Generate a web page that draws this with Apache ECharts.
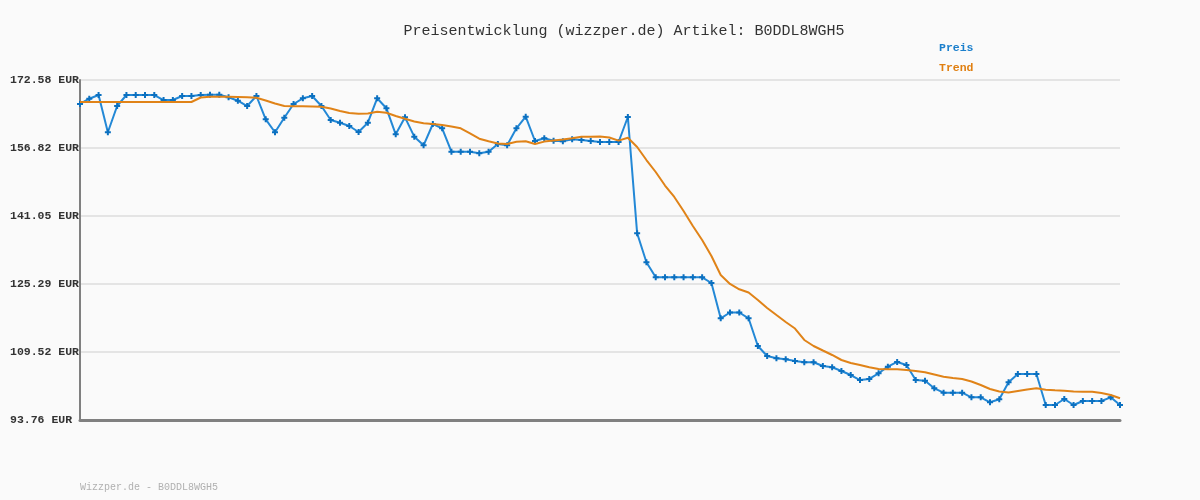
<!DOCTYPE html>
<html>
<head>
<meta charset="utf-8">
<script src="https://cdn.jsdelivr.net/npm/echarts@6/dist/echarts.min.js"></script>
<style>
html,body{margin:0;padding:0;background:#fafafa;}
#c{width:1200px;height:500px;}
</style>
</head>
<body>
<div id="c"></div>
<script>
const titleText = 'Preisentwicklung (wizzper.de) Artikel: B0DDL8WGH5';
const footerText = 'Wizzper.de - B0DDL8WGH5';
const yTicks = [93.76, 109.52, 125.29, 141.05, 156.82, 172.58];

const preis = [
167.02,168.24,169.10,160.46,166.55,169.10,169.10,169.10,169.10,167.94,
167.94,168.87,168.87,169.10,169.17,169.17,168.57,167.78,166.55,168.87,
163.47,160.46,163.84,167.02,168.34,168.87,166.55,163.31,162.68,161.92,
160.53,162.68,168.34,166.02,159.99,163.93,159.44,157.44,162.38,161.38,
155.96,155.96,155.96,155.59,155.96,157.74,157.44,161.38,164.07,158.44,
159.06,158.51,158.37,158.83,158.67,158.44,158.21,158.21,158.21,164.00,
137.04,130.32,126.84,126.84,126.84,126.84,126.84,126.84,125.52,117.34,
118.68,118.68,117.34,110.92,108.60,108.06,107.86,107.44,107.14,107.14,
106.28,105.98,105.12,104.19,103.03,103.27,104.59,106.12,107.21,106.51,
103.03,102.87,101.11,100.09,100.09,100.09,99.02,99.02,97.86,98.56,
102.50,104.42,104.42,104.42,97.24,97.24,98.63,97.24,98.17,98.17,
98.17,99.02,97.24
];

const trend = [
167.48,167.48,167.48,167.48,167.48,167.48,167.48,167.48,167.48,167.48,
167.48,167.48,167.48,168.52,168.71,168.71,168.71,168.64,168.57,168.48,
167.83,167.13,166.55,166.51,166.48,166.44,166.39,165.97,165.39,164.93,
164.75,164.82,165.23,165.00,164.23,163.59,162.96,162.54,162.38,162.15,
161.80,161.38,160.18,158.97,158.37,157.86,157.74,158.25,158.37,157.74,
158.30,158.53,158.76,159.06,159.43,159.43,159.47,159.25,158.53,159.20,
157.05,154.03,151.25,148.12,145.46,142.21,138.74,135.49,131.78,127.38,
125.29,124.06,123.32,121.58,119.73,118.10,116.48,114.97,112.31,110.92,
109.87,108.83,107.67,106.98,106.51,105.98,105.58,105.51,105.51,105.35,
105.12,104.82,104.31,103.80,103.50,103.27,102.69,101.88,100.95,100.37,
100.14,100.49,100.83,101.11,100.76,100.65,100.55,100.37,100.32,100.32,
100.02,99.56,98.79
];

const categories = preis.map((_, i) => String(i + 1));

const yMin = yTicks[0], yMax = yTicks[yTicks.length - 1];
const yInterval = (yMax - yMin) / (yTicks.length - 1);

const chart = echarts.init(document.getElementById('c'), null, {renderer: 'canvas'});
const mono = '"Liberation Mono", "DejaVu Sans Mono", monospace';

chart.setOption({
  backgroundColor: '#fafafa',
  animation: false,
  title: {
    text: titleText,
    left: 619, top: 19, textAlign: 'center',
    textStyle: {fontFamily: mono, fontSize: 15, fontWeight: 'normal', color: '#333'}
  },
  legend: {
    data: [
      {name: 'Preis', textStyle: {color: '#1a7fcc'}},
      {name: 'Trend', textStyle: {color: '#e07f10'}}
    ],
    orient: 'vertical', left: 929, top: 37,
    itemWidth: 0, itemHeight: 0, itemGap: 8,
    icon: 'rect',
    textStyle: {fontFamily: mono, fontSize: 11.5, fontWeight: 'bold'}
  },
  graphic: [{
    type: 'text', left: 80, top: 482,
    style: {text: footerText, font: '10px ' + mono, fill: '#b0b0b0'}
  }],
  grid: {left: 80, right: 80, top: 80, bottom: 80, containLabel: false},
  xAxis: {
    type: 'category', data: categories, boundaryGap: false,
    axisLine: {lineStyle: {color: '#808080', width: 3}},
    axisTick: {show: false}, axisLabel: {show: false}, splitLine: {show: false}
  },
  yAxis: {
    type: 'value', min: yMin, max: yMax, interval: yInterval,
    axisLine: {show: true, lineStyle: {color: '#808080', width: 2}},
    axisTick: {show: false},
    axisLabel: {
      margin: 70, align: 'left',
      fontFamily: mono, fontSize: 11.5, fontWeight: 'bold', color: '#333',
      formatter: v => v.toFixed(2) + ' EUR'
    },
    splitLine: {lineStyle: {color: '#e4e4e4', width: 2}}
  },
  series: [
    {
      name: 'Preis', type: 'line', data: preis,
      color: '#1a7fcc',
      lineStyle: {color: '#2388d6', width: 2},
      symbol: 'path://M2,0H4V2H6V4H4V6H2V4H0V2H2Z', symbolSize: 6, showSymbol: true,
      itemStyle: {color: '#0b70c0'}, z: 2
    },
    {
      name: 'Trend', type: 'line', data: trend,
      color: '#e07f10',
      lineStyle: {color: '#e08318', width: 2},
      showSymbol: false, symbol: 'none', z: 3
    }
  ]
});
</script>
</body>
</html>
